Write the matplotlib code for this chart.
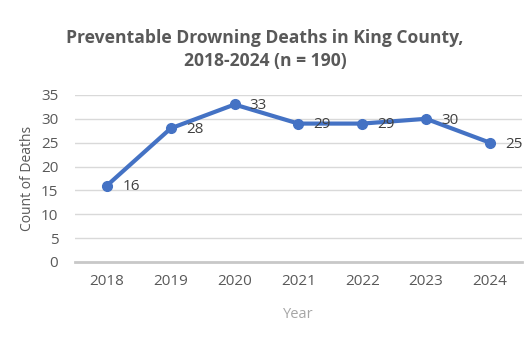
import matplotlib.pyplot as plt

years = ["2018", "2019", "2020", "2021", "2022", "2023", "2024"]
deaths = [16, 28, 33, 29, 29, 30, 25]
y_ticks = [0, 5, 10, 15, 20, 25, 30, 35]

plt.rcParams['font.family'] = ['Open Sans', 'DejaVu Sans']

fig = plt.figure(figsize=(5.3, 3.53), dpi=100)
ax = fig.add_axes([0.1415, 0.258, 0.843, 0.473])

x = range(len(years))
ax.plot(x, deaths, color="#4472C4", linewidth=3, marker="o", markersize=7,
        solid_capstyle="round", zorder=3)
for xi, v in zip(x, deaths):
    ax.annotate(str(v), (xi, v), xytext=(11, -1), textcoords="offset points",
                ha="left", va="center", fontsize=11, color="#404040")

ax.set_xlim(-0.5, len(years) - 0.5)
ax.set_ylim(0, 35)
ax.set_xticks(list(x))
ax.set_xticklabels(years)
ax.set_yticks(y_ticks)
ax.tick_params(axis="both", length=0, labelsize=11, labelcolor="#595959")
ax.tick_params(axis="y", pad=12)
ax.tick_params(axis="x", pad=9)
ax.grid(axis="y", color="#d9d9d9", linewidth=1)
ax.set_axisbelow(True)
for s in ["top", "right", "left"]:
    ax.spines[s].set_visible(False)
ax.spines["bottom"].set_color("#c8c8c8")
ax.spines["bottom"].set_linewidth(2)

ax.set_ylabel("Count of Deaths", fontsize=10, color="#595959", labelpad=4)
ax.set_xlabel("Year", fontsize=10.5, color="#a6a6a6", labelpad=13)

fig.text(0.5, 0.892, "Preventable Drowning Deaths in King County,", ha="center",
         va="center", fontsize=12.6, fontweight="bold", color="#595959")
fig.text(0.5, 0.827, "2018-2024 (n = 190)", ha="center", va="center",
         fontsize=12.6, fontweight="bold", color="#595959")

fig.savefig("out.png", dpi=100)
